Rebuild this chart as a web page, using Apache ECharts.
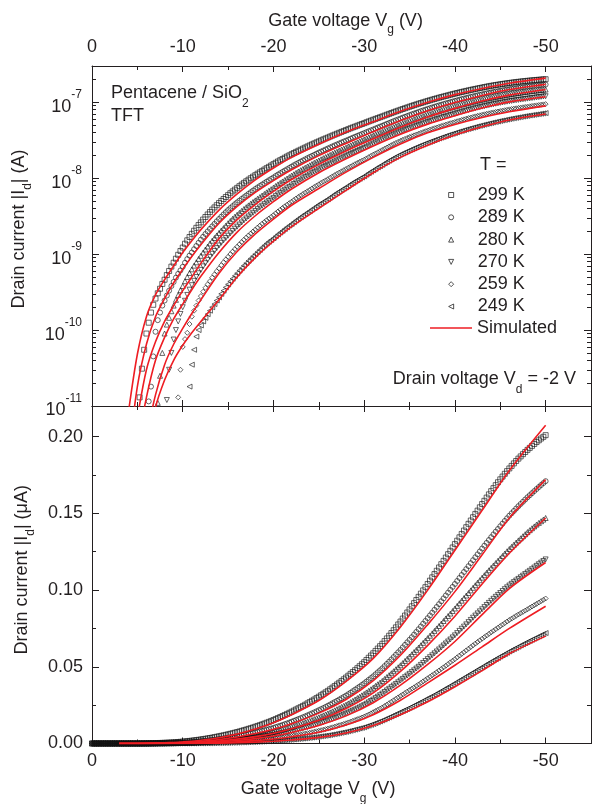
<!DOCTYPE html>
<html><head><meta charset="utf-8">
<script src="https://cdn.jsdelivr.net/npm/echarts@6/dist/echarts.min.js"></script>
<style>html,body{margin:0;padding:0;background:#fff}#c{width:592px;height:804px}</style>
</head><body><div id="c"></div>
<script>
// ---------------- DATA ----------------
const temperatures = ['299 K', '289 K', '280 K', '270 K', '259 K', '249 K'];

// gate voltage sweep (V), 0.25 V steps
const gateVoltage = [
0,-0.25,-0.5,-0.75,-1,-1.25,-1.5,-1.75,-2,-2.25,-2.5,-2.75,-3,-3.25,-3.5,-3.75,-4,-4.25,-4.5,-4.75,
-5,-5.25,-5.5,-5.75,-6,-6.25,-6.5,-6.75,-7,-7.25,-7.5,-7.75,-8,-8.25,-8.5,-8.75,-9,-9.25,-9.5,-9.75,
-10,-10.25,-10.5,-10.75,-11,-11.25,-11.5,-11.75,-12,-12.25,-12.5,-12.75,-13,-13.25,-13.5,-13.75,-14,-14.25,-14.5,-14.75,
-15,-15.25,-15.5,-15.75,-16,-16.25,-16.5,-16.75,-17,-17.25,-17.5,-17.75,-18,-18.25,-18.5,-18.75,-19,-19.25,-19.5,-19.75,
-20,-20.25,-20.5,-20.75,-21,-21.25,-21.5,-21.75,-22,-22.25,-22.5,-22.75,-23,-23.25,-23.5,-23.75,-24,-24.25,-24.5,-24.75,
-25,-25.25,-25.5,-25.75,-26,-26.25,-26.5,-26.75,-27,-27.25,-27.5,-27.75,-28,-28.25,-28.5,-28.75,-29,-29.25,-29.5,-29.75,
-30,-30.25,-30.5,-30.75,-31,-31.25,-31.5,-31.75,-32,-32.25,-32.5,-32.75,-33,-33.25,-33.5,-33.75,-34,-34.25,-34.5,-34.75,
-35,-35.25,-35.5,-35.75,-36,-36.25,-36.5,-36.75,-37,-37.25,-37.5,-37.75,-38,-38.25,-38.5,-38.75,-39,-39.25,-39.5,-39.75,
-40,-40.25,-40.5,-40.75,-41,-41.25,-41.5,-41.75,-42,-42.25,-42.5,-42.75,-43,-43.25,-43.5,-43.75,-44,-44.25,-44.5,-44.75,
-45,-45.25,-45.5,-45.75,-46,-46.25,-46.5,-46.75,-47,-47.25,-47.5,-47.75,-48,-48.25,-48.5,-48.75,-49,-49.25,-49.5,-49.75,
-50];

// measured |Id| in nA
const drain299 = [
0.002,0.002,0.002,0.002,0.002,0.002,0.002,0.002,0.002,0.002,0.002,0.002,0.002,0.002,0.002,0.0025,0.003,0.0035,0.004,0.0055,
0.008,0.013,0.031,0.055,0.09,0.125,0.17,0.215,0.26,0.305,0.35,0.405,0.46,0.53,0.6,0.685,0.77,0.87,0.98,1.1,
1.22,1.37,1.52,1.68,1.85,2.03,2.22,2.42,2.62,2.85,3.08,3.33,3.58,3.85,4.12,4.41,4.7,5.01,5.32,5.65,
5.98,6.34,6.7,7.07,7.45,7.85,8.25,8.67,9.1,9.55,10.0,10.47,10.95,11.45,11.95,12.47,13.0,13.55,14.1,14.7,
15.3,15.95,16.6,17.25,17.9,18.6,19.3,20.0,20.7,21.45,22.2,22.95,23.7,24.5,25.3,26.15,27.0,27.85,28.7,29.6,
30.5,31.45,32.4,33.35,34.3,35.35,36.4,37.45,38.5,39.6,40.7,41.85,43.0,44.2,45.4,46.6,47.8,49.1,50.4,51.7,
53.0,54.45,55.9,57.35,58.8,60.35,61.9,63.45,65.0,66.75,68.5,70.25,72.0,73.85,75.7,77.6,79.5,81.45,83.4,85.4,
87.4,89.45,91.5,93.55,95.6,97.7,99.8,101.9,104.0,106.15,108.3,110.45,112.6,114.75,116.9,119.05,121.2,123.4,125.6,127.8,
130.0,132.2,134.4,136.6,138.8,141.0,143.2,145.35,147.5,149.65,151.8,153.95,156.1,158.2,160.3,162.4,164.5,166.45,168.4,170.3,
172.2,174.0,175.8,177.55,179.3,180.95,182.6,184.15,185.7,187.15,188.6,190.0,191.4,192.7,194.0,195.25,196.5,197.65,198.8,199.9,
201.0];
const drain289 = [
0.002,0.002,0.002,0.002,0.002,0.002,0.002,0.002,0.002,0.002,0.002,0.002,0.002,0.002,0.002,0.002,0.002,0.002,0.002,0.002,
0.003,0.0035,0.004,0.0055,0.008,0.0115,0.018,0.045,0.095,0.135,0.17,0.21,0.245,0.285,0.33,0.38,0.43,0.49,0.55,0.61,
0.68,0.77,0.86,0.955,1.05,1.16,1.28,1.41,1.55,1.69,1.84,1.99,2.15,2.32,2.5,2.7,2.9,3.11,3.33,3.56,
3.8,4.04,4.28,4.54,4.8,5.06,5.33,5.61,5.9,6.21,6.53,6.86,7.2,7.54,7.88,8.24,8.6,8.99,9.38,9.79,
10.2,10.68,11.15,11.62,12.1,12.6,13.1,13.65,14.2,14.78,15.35,15.92,16.5,17.1,17.7,18.35,19.0,19.65,20.3,21.0,
21.7,22.4,23.1,23.85,24.6,25.4,26.2,27.0,27.8,28.65,29.5,30.35,31.2,32.15,33.1,34.1,35.1,36.1,37.1,38.15,
39.2,40.35,41.5,42.65,43.8,45.1,46.4,47.7,49.0,50.45,51.9,53.35,54.8,56.35,57.9,59.45,61.0,62.65,64.3,65.95,
67.6,69.3,71.0,72.75,74.5,76.3,78.1,79.9,81.7,83.5,85.3,87.15,89.0,90.85,92.7,94.6,96.5,98.35,100.2,102.1,
104.0,105.95,107.9,109.85,111.8,113.7,115.6,117.55,119.5,121.4,123.3,125.2,127.1,128.95,130.8,132.65,134.5,136.3,138.1,139.85,
141.6,143.35,145.1,146.8,148.5,150.05,151.6,153.15,154.7,156.15,157.6,159.05,160.5,161.85,163.2,164.55,165.9,167.2,168.5,169.75,
171.0];
const drain280 = [
0.002,0.002,0.002,0.002,0.002,0.002,0.002,0.002,0.002,0.002,0.002,0.002,0.002,0.002,0.002,0.002,0.002,0.002,0.002,0.002,
0.002,0.002,0.002,0.002,0.002,0.0025,0.003,0.004,0.005,0.011,0.025,0.05,0.09,0.118,0.145,0.177,0.21,0.25,0.29,0.335,
0.38,0.44,0.5,0.565,0.63,0.705,0.78,0.865,0.95,1.05,1.15,1.26,1.38,1.5,1.63,1.76,1.9,2.05,2.2,2.37,
2.55,2.73,2.92,3.11,3.3,3.5,3.71,3.93,4.15,4.38,4.62,4.86,5.1,5.36,5.63,5.91,6.2,6.51,6.83,7.16,
7.5,7.89,8.28,8.66,9.05,9.47,9.9,10.35,10.8,11.27,11.75,12.25,12.75,13.25,13.75,14.27,14.8,15.37,15.95,16.52,
17.1,17.72,18.35,18.97,19.6,20.27,20.95,21.65,22.35,23.07,23.8,24.55,25.3,26.12,26.95,27.82,28.7,29.6,30.5,31.4,
32.3,33.3,34.3,35.35,36.4,37.5,38.6,39.7,40.8,42.05,43.3,44.55,45.8,47.1,48.4,49.7,51.0,52.4,53.8,55.25,
56.7,58.15,59.6,61.05,62.5,64.05,65.6,67.15,68.7,70.25,71.8,73.4,75.0,76.6,78.2,79.85,81.5,83.1,84.7,86.35,
88.0,89.7,91.4,93.1,94.8,96.45,98.1,99.8,101.5,103.15,104.8,106.45,108.1,109.7,111.3,112.9,114.5,116.05,117.6,119.15,
120.7,122.25,123.8,125.3,126.8,128.2,129.6,131.0,132.4,133.75,135.1,136.45,137.8,139.05,140.3,141.5,142.7,143.8,144.9,145.95,
147.0];
const drain270 = [
0.002,0.002,0.002,0.002,0.002,0.002,0.002,0.002,0.002,0.002,0.002,0.002,0.002,0.002,0.002,0.002,0.002,0.002,0.002,0.002,
0.002,0.002,0.002,0.002,0.002,0.002,0.002,0.002,0.002,0.0025,0.003,0.004,0.005,0.012,0.03,0.05,0.075,0.1,0.13,0.163,
0.2,0.243,0.29,0.34,0.39,0.445,0.5,0.56,0.62,0.69,0.76,0.84,0.92,1.01,1.1,1.2,1.3,1.41,1.52,1.63,
1.75,1.88,2.02,2.16,2.3,2.45,2.61,2.78,2.95,3.13,3.31,3.5,3.7,3.91,4.12,4.33,4.55,4.78,5.01,5.25,
5.5,5.8,6.1,6.4,6.7,7.02,7.35,7.67,8.0,8.38,8.76,9.15,9.55,9.95,10.35,10.77,11.2,11.65,12.1,12.57,
13.05,13.52,14.0,14.5,15.0,15.52,16.05,16.6,17.15,17.72,18.3,18.9,19.5,20.15,20.8,21.45,22.1,22.8,23.5,24.25,
25.0,25.9,26.8,27.7,28.6,29.55,30.5,31.5,32.5,33.55,34.6,35.65,36.7,37.75,38.8,39.9,41.0,42.1,43.2,44.3,
45.4,46.55,47.7,48.85,50.0,51.25,52.5,53.75,55.0,56.25,57.5,58.75,60.0,61.3,62.6,63.9,65.2,66.5,67.8,69.15,
70.5,71.95,73.4,74.8,76.2,77.65,79.1,80.55,82.0,83.4,84.8,86.15,87.5,88.9,90.3,91.65,93.0,94.3,95.6,96.85,
98.1,99.35,100.6,101.8,103.0,104.1,105.2,106.25,107.3,108.35,109.4,110.45,111.5,112.55,113.6,114.7,115.8,116.85,117.9,118.95,
120.0];
const drain259 = [
0.002,0.002,0.002,0.002,0.002,0.002,0.002,0.002,0.002,0.002,0.002,0.002,0.002,0.002,0.002,0.002,0.002,0.002,0.002,0.002,
0.002,0.002,0.002,0.002,0.002,0.002,0.002,0.002,0.002,0.002,0.002,0.002,0.002,0.0025,0.003,0.0035,0.004,0.007,0.013,0.03,
0.06,0.076,0.092,0.12,0.15,0.18,0.21,0.245,0.28,0.32,0.36,0.4,0.44,0.49,0.54,0.595,0.65,0.715,0.78,0.85,
0.92,1.0,1.08,1.165,1.25,1.345,1.44,1.545,1.65,1.76,1.87,1.985,2.1,2.235,2.37,2.51,2.65,2.795,2.94,3.095,
3.25,3.445,3.64,3.845,4.05,4.26,4.47,4.685,4.9,5.15,5.4,5.66,5.92,6.185,6.45,6.725,7.0,7.325,7.65,7.975,
8.3,8.65,9.0,9.35,9.7,10.12,10.55,10.97,11.4,11.85,12.3,12.75,13.2,13.72,14.25,14.77,15.3,15.85,16.4,16.95,
17.5,18.2,18.9,19.65,20.4,21.15,21.9,22.7,23.5,24.4,25.3,26.25,27.2,28.15,29.1,30.05,31.0,31.95,32.9,33.85,
34.8,35.7,36.6,37.55,38.5,39.5,40.5,41.5,42.5,43.5,44.5,45.5,46.5,47.55,48.6,49.65,50.7,51.8,52.9,53.95,
55.0,56.15,57.3,58.4,59.5,60.65,61.8,62.9,64.0,65.1,66.2,67.25,68.3,69.35,70.4,71.45,72.5,73.5,74.5,75.5,
76.5,77.5,78.5,79.5,80.5,81.4,82.3,83.2,84.1,84.95,85.8,86.65,87.5,88.4,89.3,90.15,91.0,91.9,92.8,93.65,
94.5];
const drain249 = [
0.002,0.002,0.002,0.002,0.002,0.002,0.002,0.002,0.002,0.002,0.002,0.002,0.002,0.002,0.002,0.002,0.002,0.002,0.002,0.002,
0.002,0.002,0.002,0.002,0.002,0.002,0.002,0.002,0.002,0.002,0.002,0.002,0.002,0.002,0.002,0.002,0.002,0.002,0.002,0.002,
0.003,0.005,0.009,0.018,0.035,0.055,0.082,0.1,0.115,0.13,0.145,0.162,0.18,0.2,0.22,0.245,0.27,0.3,0.33,0.365,
0.4,0.437,0.475,0.517,0.56,0.607,0.655,0.707,0.76,0.817,0.875,0.937,1.0,1.07,1.14,1.22,1.3,1.38,1.46,1.54,
1.62,1.72,1.82,1.925,2.03,2.145,2.26,2.38,2.5,2.64,2.78,2.925,3.07,3.225,3.38,3.54,3.7,3.89,4.08,4.28,
4.48,4.68,4.88,5.09,5.3,5.575,5.85,6.13,6.41,6.7,7.0,7.3,7.6,7.965,8.33,8.7,9.07,9.45,9.83,10.21,
10.6,11.12,11.65,12.17,12.7,13.27,13.85,14.42,15.0,15.67,16.35,17.02,17.7,18.4,19.1,19.8,20.5,21.2,21.9,22.6,
23.3,24.05,24.8,25.55,26.3,27.05,27.8,28.6,29.4,30.15,30.9,31.7,32.5,33.35,34.2,35.05,35.9,36.75,37.6,38.45,
39.3,40.2,41.1,41.95,42.8,43.7,44.6,45.45,46.3,47.2,48.1,48.95,49.8,50.7,51.6,52.45,53.3,54.15,55.0,55.85,
56.7,57.5,58.3,59.15,60.0,60.8,61.6,62.35,63.1,63.9,64.7,65.45,66.2,66.95,67.7,68.4,69.1,69.85,70.6,71.3,
72.0];

// simulated curves (nA)
const simVoltage = [-3,-4,-5,-6,-7,-8,-9,-10,-11,-12,-14,-16,-18,-20,-22,-25,-28,-31,-34,-37,-40,-43,-46,-50];
const sim299 = [0.0002,0.008,0.048,0.15,0.29,0.46,0.7,1.05,1.5,2.1,3.8,6.2,9.5,13.6,18.8,28,40.5,55.5,76,100,126,152,178,207.5];
const sim289 = [0.00005,0.002,0.018,0.065,0.15,0.26,0.42,0.63,0.93,1.33,2.55,4.25,6.5,9.3,12.9,19.8,28.7,41,57.5,77.5,99,123,147,172];
const sim280 = [0.00001,0.0005,0.007,0.03,0.07,0.13,0.21,0.33,0.5,0.76,1.6,2.85,4.5,6.7,9.6,15.2,22.8,33,47,64,83,104,124,147];
const sim270 = [0.000005,0.0002,0.003,0.013,0.04,0.08,0.14,0.22,0.34,0.51,1.05,1.95,3.2,4.9,7.2,11.8,18,26.6,38,51.5,66.5,84,101,118];
const sim259 = [0.000001,0.00005,0.0008,0.004,0.014,0.035,0.065,0.105,0.165,0.25,0.56,1.08,1.85,2.9,4.4,7.3,12.0,18.8,28.2,39.5,51,63,75,89.5];
const sim249 = [0.0000005,0.00002,0.0002,0.0015,0.0095,0.022,0.04,0.063,0.092,0.13,0.25,0.5,0.9,1.48,2.3,4.0,6.9,11.8,18.8,27.2,37,47.5,58.5,70];

// tick values
const xMajorTicks = [0,-10,-20,-30,-40,-50];
const xMinorTicks = [-5,-15,-25,-35,-45,-55];

// ---------------- STYLE ----------------
const FONT = '"Liberation Sans", Arial, Helvetica, sans-serif';
const TXT = '#231f20';
const AX = '#231f20';
const RED = '#ee1d23';
const LOG_MAX = 3e-7, LOG_MIN = 1e-11;

const drainSeries = [drain299, drain289, drain280, drain270, drain259, drain249];
const simSeries = [sim299, sim289, sim280, sim270, sim259, sim249];
const markers = [
  {symbol: 'rect', rot: 0, icon: 'rect'},
  {symbol: 'circle', rot: 0, icon: 'circle'},
  {symbol: 'triangle', rot: 0, icon: 'triangle'},
  {symbol: 'triangle', rot: 180, icon: 'path://M0,0L10,0L5,10Z'},
  {symbol: 'diamond', rot: 0, icon: 'diamond'},
  {symbol: 'triangle', rot: 90, icon: 'path://M10,0L10,10L0,5Z'}
];

const logMinor = [];
for (let d = -11; d <= -7; d++) {
  for (let m = 2; m <= 9; m++) {
    const v = d + Math.log10(m);
    if (v < Math.log10(LOG_MAX) - 1e-6) logMinor.push(v);
  }
}

const nameRich = {
  n: {fontSize: 18, fontFamily: FONT, color: TXT, lineHeight: 20, verticalAlign: 'top'},
  sub: {fontSize: 12, fontFamily: FONT, color: TXT, lineHeight: 12, verticalAlign: 'top', padding: [12, 0, 0, 0]}
};
const supRich = {
  b: {fontSize: 18, fontFamily: FONT, color: TXT, lineHeight: 18, verticalAlign: 'top', padding: [9, 0, 0, 0]},
  s: {fontSize: 12, fontFamily: FONT, color: TXT, lineHeight: 12, verticalAlign: 'top'}
};

function xAxisDef(grid, pos, opts) {
  const o = opts || {};
  return {
    type: 'value', gridIndex: grid, position: pos, min: -55, max: 0, inverse: true,
    axisLine: {show: !o.minor, onZero: false, lineStyle: {color: AX, width: 1}},
    axisTick: {show: true, inside: true, length: o.minor ? 4 : 6, lineStyle: {color: AX, width: 1},
               customValues: o.minor ? xMinorTicks : xMajorTicks},
    axisLabel: {show: !!o.labels, customValues: xMajorTicks, margin: o.margin || 10,
                fontSize: 18, fontFamily: FONT, color: TXT,
                formatter: v => (Math.abs(v % 10) < 1e-9 ? String(Math.round(v)) : '')},
    splitLine: {show: false},
    name: o.name || '', nameLocation: 'middle', nameGap: o.nameGap || 0,
    nameTextStyle: {rich: nameRich, padding: o.namePad || 0}
  };
}

const xAxes = [
  xAxisDef(0, 'top', {labels: true, margin: 10, name: '{n|Gate voltage V}{sub|g}{n| (V)}', nameGap: 34, namePad: [0, 0, 0, 8]}),
  xAxisDef(0, 'bottom', {}),
  xAxisDef(1, 'top', {}),
  xAxisDef(1, 'bottom', {labels: true, margin: 9, name: '{n|Gate voltage V}{sub|g}{n| (V)}', nameGap: 37, namePad: [0, 47, 0, 0]}),
  xAxisDef(0, 'top', {minor: true}),
  xAxisDef(0, 'bottom', {minor: true}),
  xAxisDef(1, 'top', {minor: true}),
  xAxisDef(1, 'bottom', {minor: true})
];

function logLabel(v) {
  const l = Math.log10(v);
  const e = Math.round(l);
  if (Math.abs(l - e) > 0.01) return '';
  return '{b|10}{s|' + e + '}';
}

const yAxes = [
  {type: 'log', logBase: 10, gridIndex: 0, position: 'left', min: LOG_MIN, max: LOG_MAX,
   axisLine: {show: true, onZero: false, lineStyle: {color: AX, width: 1}},
   axisTick: {show: true, inside: true, length: 7, lineStyle: {color: AX, width: 1}},
   axisLabel: {show: true, margin: 10, formatter: logLabel, rich: supRich, padding: [0, 0, 9, 0]},
   splitLine: {show: false}, minorTick: {show: false},
   name: '{n|Drain current |I}{sub|d}{n|| (A)}', nameLocation: 'middle', nameGap: 57.5,
   nameTextStyle: {rich: nameRich, padding: [0, 0, 0, 14]}},
  {type: 'log', logBase: 10, gridIndex: 0, position: 'right', min: LOG_MIN, max: LOG_MAX,
   axisLine: {show: true, onZero: false, lineStyle: {color: AX, width: 1}},
   axisTick: {show: true, inside: true, length: 7, lineStyle: {color: AX, width: 1}},
   axisLabel: {show: false}, splitLine: {show: false}},
  {type: 'value', gridIndex: 0, position: 'left', min: -11, max: Math.log10(LOG_MAX),
   axisLine: {show: false, onZero: false},
   axisTick: {show: true, inside: true, length: 4, lineStyle: {color: AX, width: 1}, customValues: logMinor},
   axisLabel: {show: false}, splitLine: {show: false}},
  {type: 'value', gridIndex: 0, position: 'right', min: -11, max: Math.log10(LOG_MAX),
   axisLine: {show: false, onZero: false},
   axisTick: {show: true, inside: true, length: 4, lineStyle: {color: AX, width: 1}, customValues: logMinor},
   axisLabel: {show: false}, splitLine: {show: false}},
  {type: 'value', gridIndex: 1, position: 'left', min: 0, max: 0.22, interval: 0.05,
   axisLine: {show: true, onZero: false, lineStyle: {color: AX, width: 1}},
   axisTick: {show: true, inside: true, length: 7, lineStyle: {color: AX, width: 1}},
   minorTick: {show: true, splitNumber: 2, length: 4, lineStyle: {color: AX, width: 1}},
   axisLabel: {show: true, margin: 9, fontSize: 18, fontFamily: FONT, color: TXT, showMaxLabel: false,
               formatter: v => v.toFixed(2)},
   splitLine: {show: false}, minorSplitLine: {show: false},
   name: '{n|Drain current |I}{sub|d}{n|| (μA)}', nameLocation: 'middle', nameGap: 57.5,
   nameTextStyle: {rich: nameRich, padding: [0, 0, 0, 10]}},
  {type: 'value', gridIndex: 1, position: 'right', min: 0, max: 0.22, interval: 0.05,
   axisLine: {show: true, onZero: false, lineStyle: {color: AX, width: 1}},
   axisTick: {show: true, inside: true, length: 7, lineStyle: {color: AX, width: 1}},
   minorTick: {show: true, splitNumber: 2, length: 4, lineStyle: {color: AX, width: 1}},
   axisLabel: {show: false}, splitLine: {show: false}, minorSplitLine: {show: false}}
];

const MARK_STYLE = {color: 'rgba(255,255,255,0)', borderColor: '#111', borderWidth: 0.8};

const series = [];
for (let i = 0; i < temperatures.length; i++) {
  const mk = markers[i];
  const base = {
    type: 'scatter', name: temperatures[i], symbol: mk.symbol, symbolRotate: mk.rot, symbolSize: 5,
    itemStyle: MARK_STYLE, z: 2, clip: true, silent: true, animation: false
  };
  series.push(Object.assign({}, base, {xAxisIndex: 0, yAxisIndex: 0,
    data: gateVoltage.map((v, k) => [v, drainSeries[i][k] * 1e-9])}));
  series.push(Object.assign({}, base, {xAxisIndex: 3, yAxisIndex: 4,
    data: gateVoltage.map((v, k) => [v, drainSeries[i][k] * 1e-3])}));
}
for (let i = 0; i < temperatures.length; i++) {
  const lineBase = {
    type: 'line', name: 'Simulated', symbol: 'none', showSymbol: false, smooth: 0.3,
    lineStyle: {color: RED, width: 1.6}, itemStyle: {color: RED}, z: 3, clip: true, silent: true, animation: false
  };
  series.push(Object.assign({}, lineBase, {xAxisIndex: 0, yAxisIndex: 0,
    data: simVoltage.map((v, k) => [v, simSeries[i][k] * 1e-9]).filter(p => p[1] >= 1e-12)}));
  series.push(Object.assign({}, lineBase, {xAxisIndex: 3, yAxisIndex: 4,
    data: simVoltage.map((v, k) => [v, simSeries[i][k] * 1e-3])}));
}

const gRich = {
  a: {fill: TXT, fontSize: 18, fontFamily: FONT, lineHeight: 20, verticalAlign: 'top'},
  b: {fill: TXT, fontSize: 12, fontFamily: FONT, lineHeight: 12, verticalAlign: 'top', padding: [13, 0, 0, 0]}
};

const legendMarkerData = temperatures.map((t, i) => ({
  name: t, icon: markers[i].icon,
  itemStyle: {color: 'rgba(255,255,255,0)', borderColor: '#111', borderWidth: 0.9}
}));

const option = {
  animation: false,
  backgroundColor: '#fff',
  grid: [
    {left: 92, top: 66, width: 499, height: 340, outerBoundsMode: 'none', containLabel: false},
    {left: 92, top: 406, width: 499, height: 337.5, outerBoundsMode: 'none', containLabel: false}
  ],
  xAxis: xAxes,
  yAxis: yAxes,
  legend: [
    {show: true, orient: 'vertical', left: 448.2, top: 186, itemWidth: 5, itemHeight: 5, itemGap: 4.3,
     selectedMode: false, padding: 0,
     textStyle: {fontSize: 18, fontFamily: FONT, color: TXT, lineHeight: 18, padding: [0, 0, 0, 19]},
     data: legendMarkerData},
    {show: true, orient: 'vertical', left: 430, top: 319, itemWidth: 42, itemHeight: 1.6, itemGap: 0,
     selectedMode: false, padding: 0,
     textStyle: {fontSize: 18, fontFamily: FONT, color: TXT, lineHeight: 18},
     data: [{name: 'Simulated', icon: 'rect', itemStyle: {color: RED, borderWidth: 0}}]}
  ],
  graphic: [
    {type: 'text', x: 111, y: 94.3, silent: true,
     style: {text: '{a|Pentacene / SiO}{b|2}', rich: gRich, align: 'left', verticalAlign: 'middle'}},
    {type: 'text', x: 111, y: 116, silent: true,
     style: {text: 'TFT', fill: TXT, font: '18px ' + FONT, align: 'left', verticalAlign: 'middle'}},
    {type: 'text', x: 480, y: 165, silent: true,
     style: {text: 'T =', fill: TXT, font: '18px ' + FONT, align: 'left', verticalAlign: 'middle'}},
    {type: 'text', x: 576, y: 380.5, silent: true,
     style: {text: '{a|Drain voltage V}{b|d}{a| = -2 V}', rich: gRich, align: 'right', verticalAlign: 'middle'}}
  ],
  series: series
};

const chart = echarts.init(document.getElementById('c'), null, {renderer: 'canvas', width: 592, height: 804});
chart.setOption(option);
</script>
</body></html>
